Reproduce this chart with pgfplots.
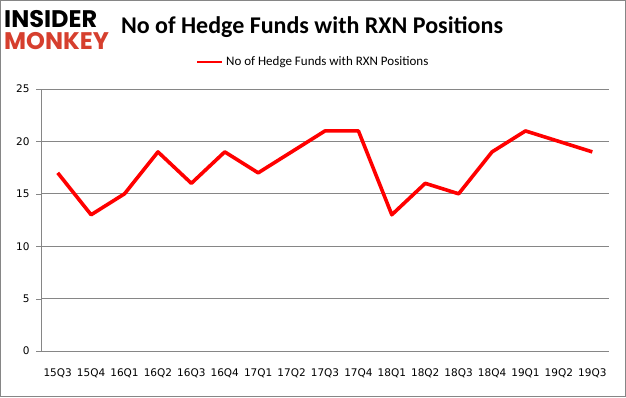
\documentclass[border=0pt]{standalone}
\usepackage{pgfplots}
\pgfplotsset{compat=1.18}
\usepackage{fontspec}
\setmainfont{Carlito}
\newfontfamily\tickfont{DejaVu Sans}
\newfontfamily\logofont{Poppins}[UprightFont=* Bold]
\definecolor{gridgray}{HTML}{868686}
\definecolor{monkeyred}{HTML}{D63F2E}
\begin{document}
\begin{tikzpicture}[x=1pt,y=1pt]
\draw[draw=gridgray, line width=1pt, fill=white] (0.5,0.5) rectangle (625.5,396.5);
\node[anchor=west, inner sep=0pt, font=\logofont\fontsize{24}{24}\selectfont] at (4,378) {INSIDER};
\node[anchor=west, inner sep=0pt, font=\logofont\fontsize{24}{24}\selectfont, text=monkeyred] at (4,356) {MONKEY};
\node[font=\bfseries\fontsize{24}{28}\selectfont] at (312,370) {No of Hedge Funds with RXN Positions};
\draw[red, line width=2pt] (197,335) -- (222,335);
\node[anchor=west, inner sep=0pt, font=\fontsize{13}{15}\selectfont] at (226,335) {No of Hedge Funds with RXN Positions};
\begin{axis}[at={(41pt,46pt)}, anchor=south west,
  scale only axis, width=568pt, height=262pt,
  xmin=-0.5, xmax=16.5, ymin=0, ymax=25,
  ytick={0,5,...,25},
  xtick={0,...,16},
  xticklabels={15Q3,15Q4,16Q1,16Q2,16Q3,16Q4,17Q1,17Q2,17Q3,17Q4,18Q1,18Q2,18Q3,18Q4,19Q1,19Q2,19Q3},
  extra x ticks={-0.5,0.5,...,16.5}, extra x tick labels={},
  extra x tick style={major tick length=5pt, tick style={draw=gridgray}, tick align=outside, grid=none},
  major x tick style={draw=none},
  ymajorgrids, grid style={gridgray, line width=0.8pt},
  axis x line*=bottom, axis y line*=left,
  axis line style={gridgray, line width=0.8pt},
  ytick style={draw=gridgray}, tick align=outside, major tick length=5pt,
  tick label style={font=\tickfont\fontsize{10.5}{12}\selectfont},
  yticklabel style={xshift=-3pt},
  xticklabel style={yshift=-9pt},
  /pgf/number format/assume math mode=true,
  clip=false]
\addplot[red, line width=3.6pt, line join=round] coordinates {
(0,17)(1,13)(2,15)(3,19)(4,16)(5,19)(6,17)(7,19)(8,21)(9,21)(10,13)(11,16)(12,15)(13,19)(14,21)(15,20)(16,19)};
\end{axis}
\end{tikzpicture}
\end{document}
